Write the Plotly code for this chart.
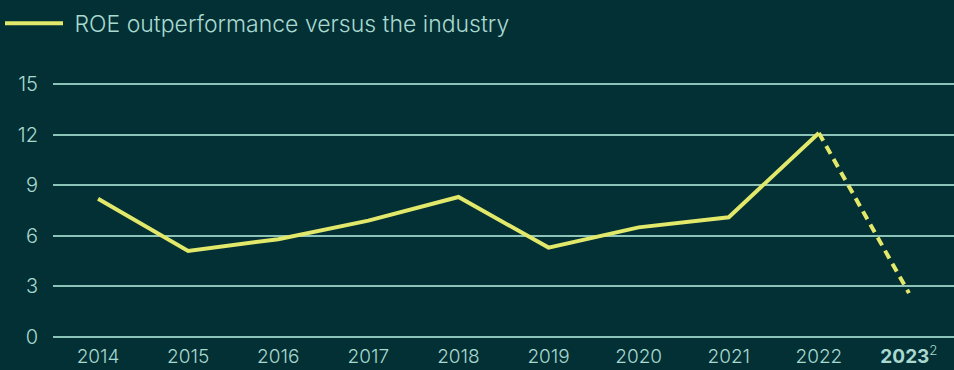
import plotly.graph_objects as go

years = ["2014", "2015", "2016", "2017", "2018", "2019", "2020", "2021", "2022", "2023"]
tick_labels = ["2014", "2015", "2016", "2017", "2018", "2019", "2020", "2021", "2022",
               "<b>2023</b><sup>2</sup>"]
roe_outperf = [8.2, 5.1, 5.8, 6.9, 8.3, 5.3, 6.5, 7.1, 12.1, 2.6]
y_ticks = [0, 3, 6, 9, 12, 15]

BG = "#023035"
LINE = "#e2e869"
GRID = "#8cc3b9"
TEXT = "#a9d9cf"
FONT = "Inter"

fig = go.Figure()

# actual years, solid line
fig.add_trace(go.Scatter(
    x=years[:9], y=roe_outperf[:9], mode="lines",
    name=" ROE outperformance versus the industry",
    line=dict(color=LINE, width=4),
    hoverinfo="skip",
))
# projected year, dashed continuation
fig.add_trace(go.Scatter(
    x=years[8:], y=roe_outperf[8:], mode="lines", showlegend=False,
    line=dict(color=LINE, width=4, dash="9px,6px"),
    hoverinfo="skip",
))

fig.update_layout(
    width=954, height=370,
    margin=dict(l=53, r=0, t=79, b=28),
    paper_bgcolor=BG, plot_bgcolor=BG,
    font=dict(family=FONT, color=TEXT, size=20, weight=300),
    showlegend=True,
    legend=dict(
        orientation="h", x=0.0, y=0.995, xref="container", yref="container",
        xanchor="left", yanchor="top", itemwidth=58,
        font=dict(size=23, color=TEXT, family=FONT, weight=300),
        bgcolor="rgba(0,0,0,0)",
    ),
    xaxis=dict(
        type="category", tickvals=years, ticktext=tick_labels,
        range=[-0.5, 9.5], showgrid=False, zeroline=False, showline=False,
        ticks="", tickfont=dict(size=19, color=TEXT),
        ticklabelstandoff=1, automargin=False,
    ),
    yaxis=dict(
        range=[-0.3, 15.3], tickvals=y_ticks, showgrid=True,
        gridcolor=GRID, gridwidth=1.5, zeroline=False, showline=False,
        ticks="", tickfont=dict(size=20, color=TEXT),
        ticklabelstandoff=14, automargin=False,
    ),
)

fig.write_html("out.html")
